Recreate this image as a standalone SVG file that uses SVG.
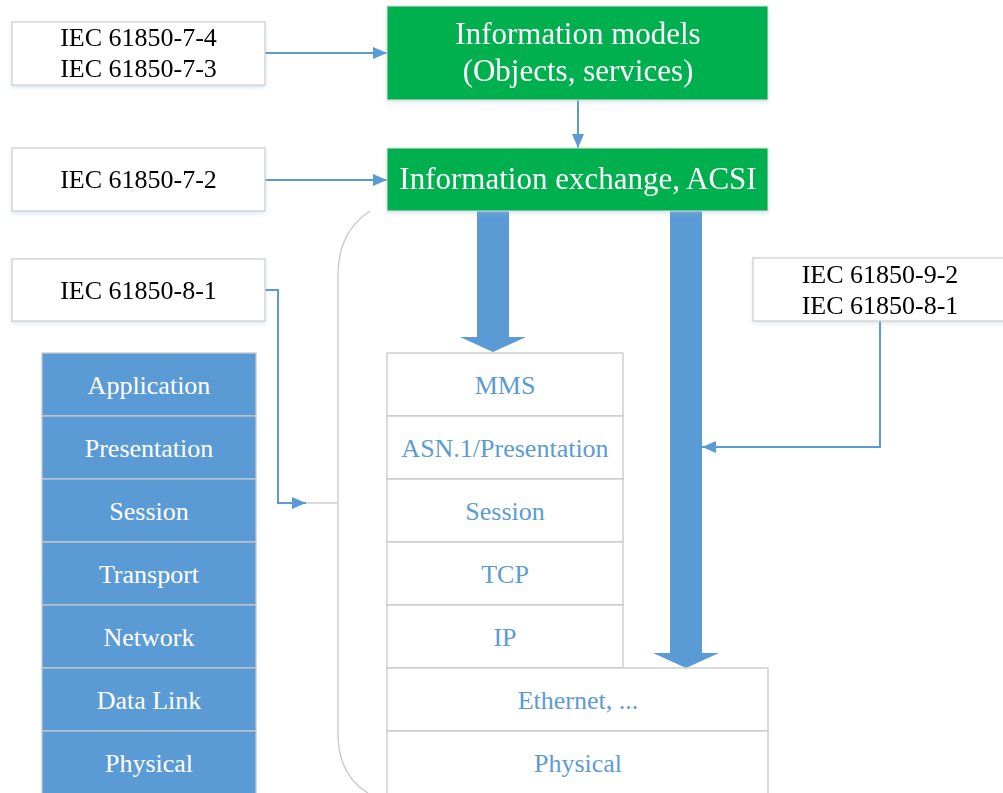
<svg xmlns="http://www.w3.org/2000/svg" width="1003" height="793" viewBox="0 0 1003 793">
<style>
text{font-family:"Liberation Serif","Times New Roman",serif;text-anchor:middle}
.wb{fill:#fff;stroke:#d0d0d0;stroke-width:1.3}
.gb{fill:#00b050;stroke:#e0e0e0;stroke-width:1}
.ob{fill:#5b9bd5;stroke:#c8c8c8;stroke-width:1.3}
.sb{fill:#fff;stroke:#c8c8c8;stroke-width:1.3}
.tk{fill:#000;font-size:26px}
.tw{fill:#fff;font-size:26px}
.tg{fill:#fff;font-size:31px}
.tb{fill:#5b9bd5;font-size:26px}
.ln{fill:none;stroke:#5b9bd5;stroke-width:2}
.blk{fill:#5b9bd5}
</style>
<defs>
<marker id="ah" viewBox="0 0 14 12" refX="14" refY="6" markerWidth="14" markerHeight="12" markerUnits="userSpaceOnUse" orient="auto">
<path d="M0,0 L14,6 L0,12 z" fill="#5b9bd5"/>
</marker>
<filter id="sh" x="-5%" y="-5%" width="110%" height="120%">
<feDropShadow dx="0" dy="2" stdDeviation="2" flood-color="#9db8d8" flood-opacity="0.35"/>
</filter>
</defs>

<g id="brace">
<path d="M370,211 Q338,232 338,275 L338,733 Q338,775 368,793" fill="none" stroke="#c8c8c8" stroke-width="1.3"/>
</g>

<g id="connectors">
<line class="ln" x1="265" y1="53" x2="387" y2="53" marker-end="url(#ah)"/>
<line class="ln" x1="265" y1="180" x2="387" y2="180" marker-end="url(#ah)"/>
<line class="ln" x1="578" y1="100" x2="578" y2="148" marker-end="url(#ah)"/>
<polyline class="ln" points="265,290 278,290 278,503 306,503" marker-end="url(#ah)"/>
<line x1="306" y1="503" x2="338" y2="503" stroke="#c8c8c8" stroke-width="1.3"/>
<polyline class="ln" points="880,321 880,447 702,447" marker-end="url(#ah)"/>
<polygon class="blk" points="477,211 509,211 509,337 526,337 493,352 460,337 477,337"/>
<polygon class="blk" points="670,211 702,211 702,653 719,653 686,668 653,653 670,653"/>
</g>

<g id="n-iec-7-4" filter="url(#sh)">
<rect class="wb" x="12" y="22" width="253" height="63"/>
<text class="tk" x="138.5" y="46">IEC 61850-7-4</text>
<text class="tk" x="138.5" y="77">IEC 61850-7-3</text>
</g>
<g id="n-iec-7-2" filter="url(#sh)">
<rect class="wb" x="12" y="148" width="253" height="63"/>
<text class="tk" x="138.5" y="188">IEC 61850-7-2</text>
</g>
<g id="n-iec-8-1" filter="url(#sh)">
<rect class="wb" x="12" y="259" width="253" height="62"/>
<text class="tk" x="138.5" y="299">IEC 61850-8-1</text>
</g>
<g id="n-iec-9-2" filter="url(#sh)">
<rect class="wb" x="753" y="258" width="260" height="63"/>
<text class="tk" x="880" y="283">IEC 61850-9-2</text>
<text class="tk" x="880" y="314">IEC 61850-8-1</text>
</g>

<g id="n-info-models" filter="url(#sh)">
<rect class="gb" x="387" y="6" width="381" height="94"/>
<text class="tg" x="578" y="44">Information models</text>
<text class="tg" x="578" y="81">(Objects, services)</text>
</g>
<g id="n-info-exchange" filter="url(#sh)">
<rect class="gb" x="387" y="148" width="381" height="63"/>
<text class="tg" x="578" y="189">Information exchange, ACSI</text>
</g>

<g id="n-osi-application"><rect class="ob" x="42" y="353" width="214" height="63"/><text class="tw" x="149" y="394">Application</text></g>
<g id="n-osi-presentation"><rect class="ob" x="42" y="416" width="214" height="63"/><text class="tw" x="149" y="457">Presentation</text></g>
<g id="n-osi-session"><rect class="ob" x="42" y="479" width="214" height="63"/><text class="tw" x="149" y="520">Session</text></g>
<g id="n-osi-transport"><rect class="ob" x="42" y="542" width="214" height="63"/><text class="tw" x="149" y="583">Transport</text></g>
<g id="n-osi-network"><rect class="ob" x="42" y="605" width="214" height="63"/><text class="tw" x="149" y="646">Network</text></g>
<g id="n-osi-datalink"><rect class="ob" x="42" y="668" width="214" height="63"/><text class="tw" x="149" y="709">Data Link</text></g>
<g id="n-osi-physical"><rect class="ob" x="42" y="731" width="214" height="63"/><text class="tw" x="149" y="772">Physical</text></g>

<g id="n-mms"><rect class="sb" x="387" y="353" width="236" height="63"/><text class="tb" x="505" y="394">MMS</text></g>
<g id="n-asn1"><rect class="sb" x="387" y="416" width="236" height="63"/><text class="tb" x="505" y="457">ASN.1/Presentation</text></g>
<g id="n-session"><rect class="sb" x="387" y="479" width="236" height="63"/><text class="tb" x="505" y="520">Session</text></g>
<g id="n-tcp"><rect class="sb" x="387" y="542" width="236" height="63"/><text class="tb" x="505" y="583">TCP</text></g>
<g id="n-ip"><rect class="sb" x="387" y="605" width="236" height="63"/><text class="tb" x="505" y="646">IP</text></g>
<g id="n-ethernet"><rect class="sb" x="387" y="668" width="381" height="63"/><text class="tb" x="578" y="709">Ethernet, ...</text></g>
<g id="n-physical"><rect class="sb" x="387" y="731" width="381" height="63"/><text class="tb" x="578" y="772">Physical</text></g>
</svg>
